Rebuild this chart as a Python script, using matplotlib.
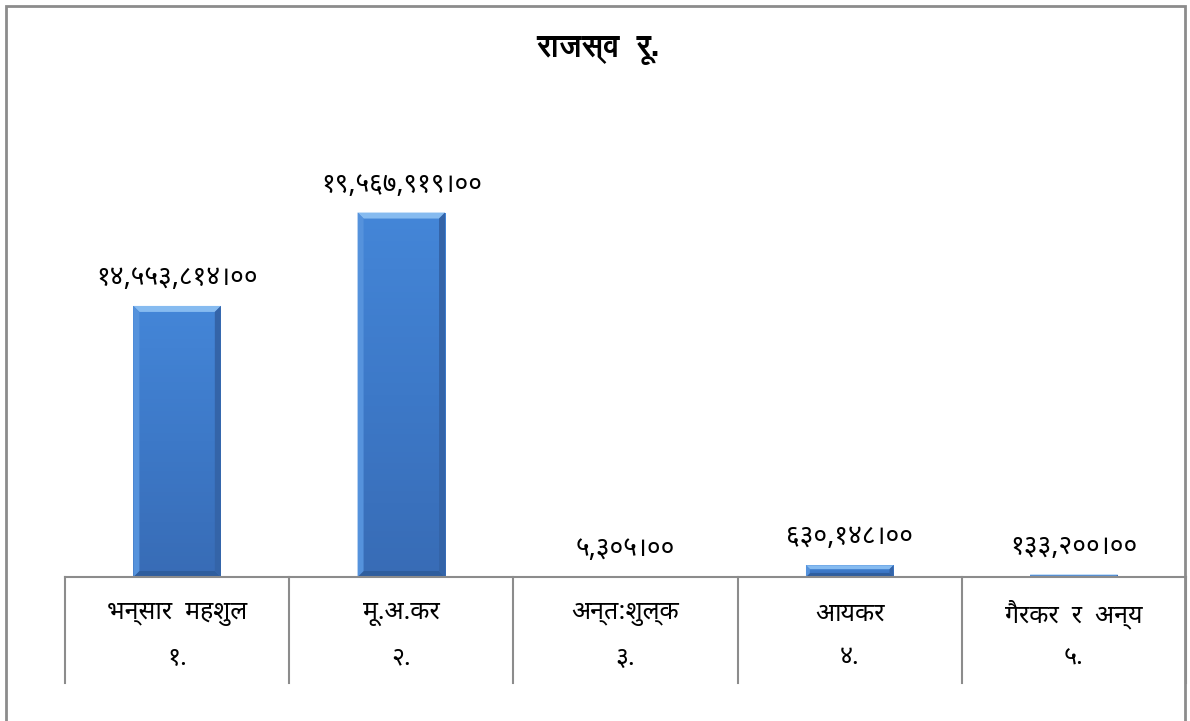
import matplotlib
matplotlib.use("Agg")
import numpy as np
import matplotlib.pyplot as plt
import matplotlib.transforms as mtransforms
from matplotlib.patches import Rectangle, Polygon

plt.rcParams['font.family'] = ['Noto Sans Devanagari', 'FreeSans', 'DejaVu Sans']

# data
categories = ['भन्सार  महशुल', 'मू.अ.कर', 'अन्त:शुल्क', 'आयकर', 'गैरकर  र  अन्य']
serials = ['१.', '२.', '३.', '४.', '५.']
values = [14553814.00, 19567919.00, 5305.00, 630148.00, 133200.00]
value_labels = ['१४,५५३,८१४।००', '१९,५६७,९१९।००', '५,३०५।००', '६३०,१४८।००', '१३३,२००।००']
title = 'राजस्व  रू.'

W, H = 1190, 721
fig = plt.figure(figsize=(W / 100, H / 100), dpi=100)
ax = fig.add_axes([65 / W, (H - 577) / H, (1186 - 65) / W, 447 / H])

grey = '#8c8c8c'
x = np.arange(len(values))
bars = ax.bar(x, values, width=0.39, color='#3f7cca', edgecolor='none', zorder=2)

ax.set_xlim(-0.5, len(values) - 0.5)
ax.set_ylim(0, 24000000)
for s in ax.spines.values():
    s.set_visible(False)
ax.set_xticks([])
ax.set_yticks([])
ax.patch.set_alpha(0)

# bevel look on the bars
px = 24000000 / 447.0
pxx = len(values) / (1186 - 65.0)
grad = np.linspace(0, 1, 64).reshape(-1, 1)
cmap = matplotlib.colors.LinearSegmentedColormap.from_list('b', ['#386cb6', '#3d79c8', '#4486d8'])
for b in bars:
    x0, w, h = b.get_x(), b.get_width(), b.get_height()
    if h <= 0:
        continue
    im = ax.imshow(grad, extent=(x0, x0 + w, 0, h), origin='lower', cmap=cmap,
                   aspect='auto', zorder=2.1)
    im.set_clip_path(b)
    bv = min(6 * px, h / 3.0)
    bx = 6 * pxx * (bv / (6 * px))
    top = Polygon([(x0, h), (x0 + w, h), (x0 + w - bx, h - bv), (x0 + bx, h - bv)],
                  closed=True, facecolor='#86bbf0', edgecolor='none', zorder=2.2)
    bot = Polygon([(x0, 0), (x0 + w, 0), (x0 + w - bx, bv), (x0 + bx, bv)],
                  closed=True, facecolor='#2f5e9e', edgecolor='none', zorder=2.2)
    lft = Polygon([(x0, 0), (x0, h), (x0 + bx, h - bv), (x0 + bx, bv)],
                  closed=True, facecolor='#5592dc', edgecolor='none', zorder=2.2)
    rgt = Polygon([(x0 + w, 0), (x0 + w, h), (x0 + w - bx, h - bv), (x0 + w - bx, bv)],
                  closed=True, facecolor='#3464a8', edgecolor='none', zorder=2.2)
    for p in (top, bot, lft, rgt):
        ax.add_patch(p)

# value labels
for xi, v, lab in zip(x, values, value_labels):
    ax.annotate(lab, (xi, v), xytext=(0, 20), textcoords='offset points',
                ha='center', va='center', fontsize=19, color='black', zorder=5)

# category axis: baseline, separators and two label rows
trans = mtransforms.blended_transform_factory(ax.transData, ax.transAxes)
ax.plot([-0.5, len(values) - 0.5], [0, 0], color=grey, lw=1.5, transform=trans,
        clip_on=False, zorder=3)
for sx in np.arange(-0.5, len(values), 1.0):
    ax.plot([sx, sx], [0, -106 / 447], color=grey, lw=1.5, transform=trans,
            clip_on=False, zorder=3)
for xi, cat, sn in zip(x, categories, serials):
    ax.text(xi, -37 / 447, cat, transform=trans, ha='center', va='center', fontsize=18)
    ax.text(xi, -81 / 447, sn, transform=trans, ha='center', va='center', fontsize=18)

fig.text(598 / W, 1 - 50 / H, title, ha='center', va='center', fontsize=22,
         fontweight='bold', family=['FreeSans', 'DejaVu Sans'])

# outer frame (bottom edge lies below the picture)
frame = Rectangle((6 / W, -0.1), (1185 - 6) / W, 1.1 - 6 / H, transform=fig.transFigure,
                  fill=False, edgecolor=grey, lw=2)
fig.patches.append(frame)

fig.savefig('out.png', dpi=100)
